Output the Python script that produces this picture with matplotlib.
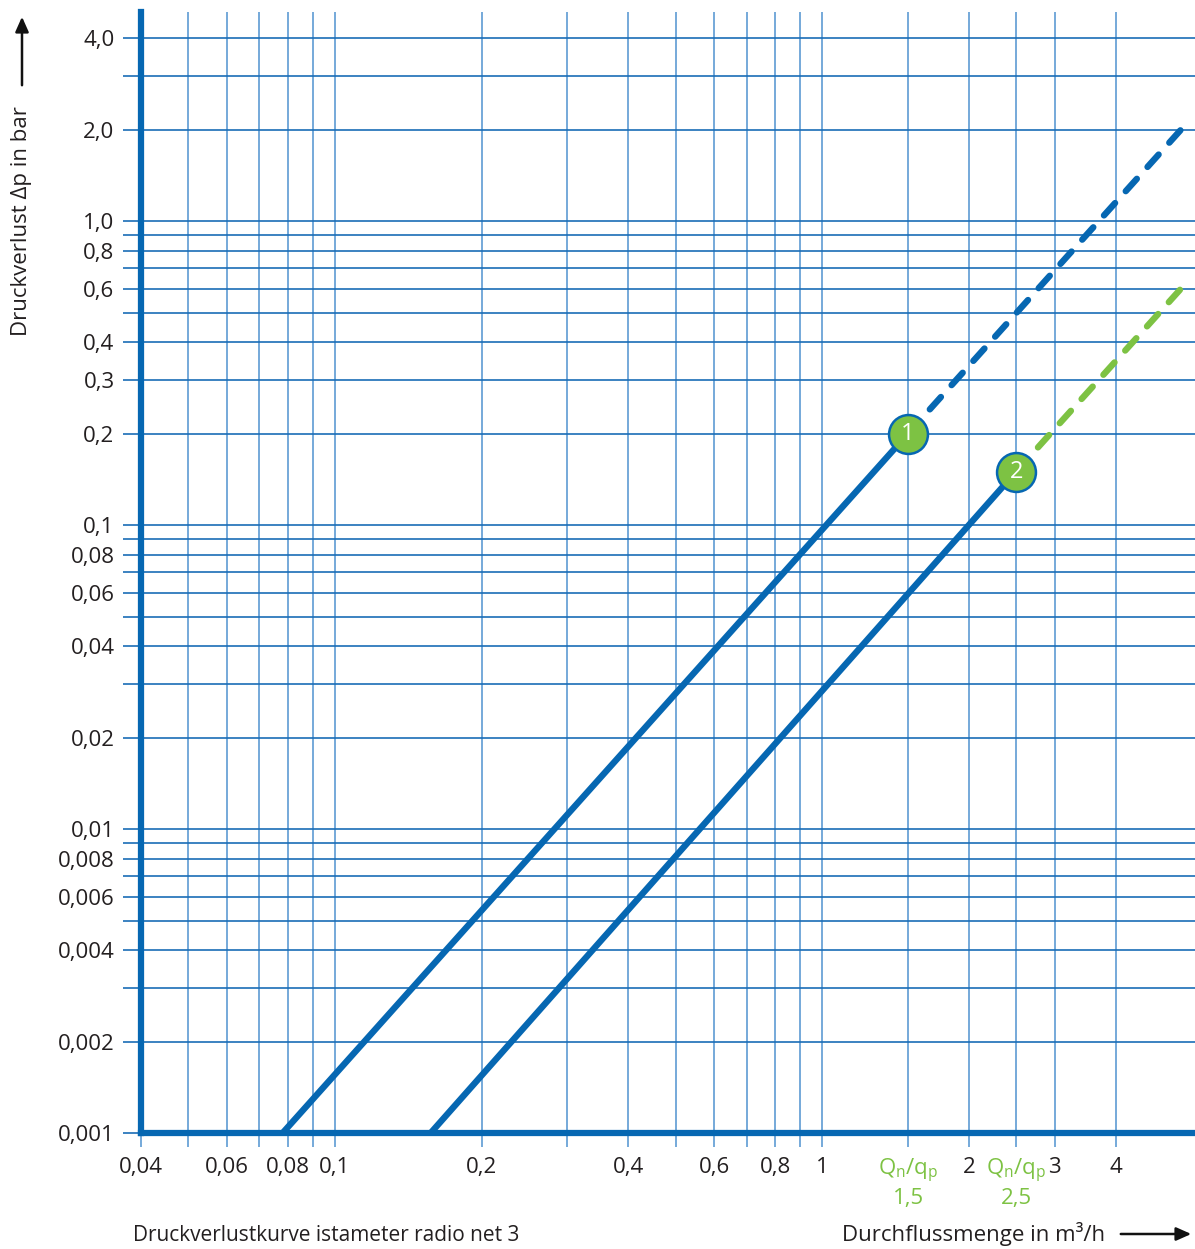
import matplotlib
matplotlib.use('Agg')
import matplotlib.pyplot as plt

plt.rcParams['font.family'] = ['Open Sans', 'DejaVu Sans']
plt.rcParams['mathtext.fontset'] = 'custom'
plt.rcParams['mathtext.rm'] = 'Open Sans'
plt.rcParams['mathtext.it'] = 'Open Sans'

BLUE = '#0667b2'
GRID_V = '#5d9bd3'
GRID_H = '#1a6db6'
GREEN = '#7dc243'
TEXT = '#231f20'

# flow (m3/h) and pressure loss (bar) along the two curves
q_meter1 = [0.078, 1.5]
dp_meter1 = [0.001, 0.2]
q_meter1_ext = [1.5, 5.45]
dp_meter1_ext = [0.2, 2.0]

q_meter2 = [0.157, 2.5]
dp_meter2 = [0.001, 0.15]
q_meter2_ext = [2.5, 5.45]
dp_meter2_ext = [0.15, 0.6]

x_grid = [0.04, 0.05, 0.06, 0.07, 0.08, 0.09, 0.1, 0.2, 0.3, 0.4, 0.5, 0.6,
          0.7, 0.8, 0.9, 1.0, 1.5, 2.0, 2.5, 3.0, 4.0]
qlab = r'Q$_\mathrm{n}$/q$_\mathrm{p}$'
x_labels = ['0,04', '', '0,06', '', '0,08', '', '0,1', '0,2', '', '0,4', '',
            '0,6', '', '0,8', '', '1', qlab + '\n1,5', '2', qlab + '\n2,5',
            '3', '4']

y_grid = [0.001, 0.002, 0.003, 0.004, 0.005, 0.006, 0.007, 0.008, 0.009,
          0.01, 0.02, 0.03, 0.04, 0.05, 0.06, 0.07, 0.08, 0.09,
          0.1, 0.2, 0.3, 0.4, 0.5, 0.6, 0.7, 0.8, 0.9, 1.0, 2.0, 3.0, 4.0]
y_labels = ['0,001', '0,002', '', '0,004', '', '0,006', '', '0,008', '',
            '0,01', '0,02', '', '0,04', '', '0,06', '', '0,08', '',
            '0,1', '0,2', '0,3', '0,4', '', '0,6', '', '0,8', '', '1,0',
            '2,0', '', '4,0']

W, H = 1195, 1249


def fx(px):
    return px / W


def fy(py):
    return 1 - py / H


fig = plt.figure(figsize=(W / 100, H / 100), dpi=100)
ax = fig.add_axes([fx(141), fy(1133.3), fx(1195 - 141), (1133.3 - 12) / H])
ax.set_xscale('log')
ax.set_yscale('log')
ax.set_xlim(0.04, 5.82)
ax.set_ylim(0.001, 4.87)

ax.set_xticks(x_grid)
ax.set_xticklabels(x_labels)
ax.set_yticks(y_grid)
ax.set_yticklabels(y_labels)
ax.minorticks_off()
for lab in ax.get_xticklabels():
    if 'Q' in lab.get_text():
        lab.set_color(GREEN)
    else:
        lab.set_color(TEXT)
for lab in ax.get_yticklabels():
    lab.set_color(TEXT)

ax.tick_params(axis='x', length=10, width=1.2, color=GRID_V, pad=7,
               labelsize=16)
ax.tick_params(axis='y', length=13, width=1.2, color=GRID_H, pad=6,
               labelsize=16)

ax.grid(axis='x', color=GRID_V, lw=1.2, zorder=0)
ax.grid(axis='y', color=GRID_H, lw=1.2, zorder=0)

for side in ['top', 'right']:
    ax.spines[side].set_visible(False)
for side in ['left', 'bottom']:
    ax.spines[side].set_color(BLUE)
    ax.spines[side].set_linewidth(4.5)
    ax.spines[side].set_zorder(5)

ax.plot(q_meter1, dp_meter1, color=BLUE, lw=4.6, solid_capstyle='butt',
        zorder=3)
ax.plot(q_meter2, dp_meter2, color=BLUE, lw=4.6, solid_capstyle='butt',
        zorder=3)
ax.plot(q_meter1_ext, dp_meter1_ext, color=BLUE, lw=4.6, dashes=(2.6, 2.5),
        dash_capstyle='round', zorder=3)
ax.plot(q_meter2_ext, dp_meter2_ext, color=GREEN, lw=4.6, dashes=(2.6, 2.5),
        dash_capstyle='round', zorder=3)

for q, dp, num in [(q_meter1[-1], dp_meter1[-1], '1'),
                   (q_meter2[-1], dp_meter2[-1], '2')]:
    ax.plot([q], [dp], 'o', ms=28, mfc=GREEN, mec=BLUE, mew=1.8, zorder=6)
    ax.text(q, dp, num, color='white', fontsize=17, ha='center',
            va='center', zorder=7)

# axis titles with arrows
fig.text(fx(22), fy(221), 'Druckverlust \u0394p in bar', rotation=90,
         ha='center', va='center', fontsize=16, color=TEXT)
fig.add_artist(matplotlib.patches.FancyArrowPatch(
    (fx(22), fy(88)), (fx(22), fy(14)), transform=fig.transFigure,
    arrowstyle='-|>,head_length=9,head_width=4', color='#111111', lw=1.8))

fig.text(fx(1105), fy(1234), 'Durchflussmenge in m\u00b3/h', ha='right',
         va='center', fontsize=16, color=TEXT)
fig.add_artist(matplotlib.patches.FancyArrowPatch(
    (fx(1118), fy(1234)), (fx(1194), fy(1234)), transform=fig.transFigure,
    arrowstyle='-|>,head_length=9,head_width=4', color='#111111', lw=1.8))

fig.text(fx(133), fy(1246), 'Druckverlustkurve istameter radio net 3',
         ha='left', va='bottom', fontsize=15, color=TEXT)

fig.savefig('out.png', dpi=100)
